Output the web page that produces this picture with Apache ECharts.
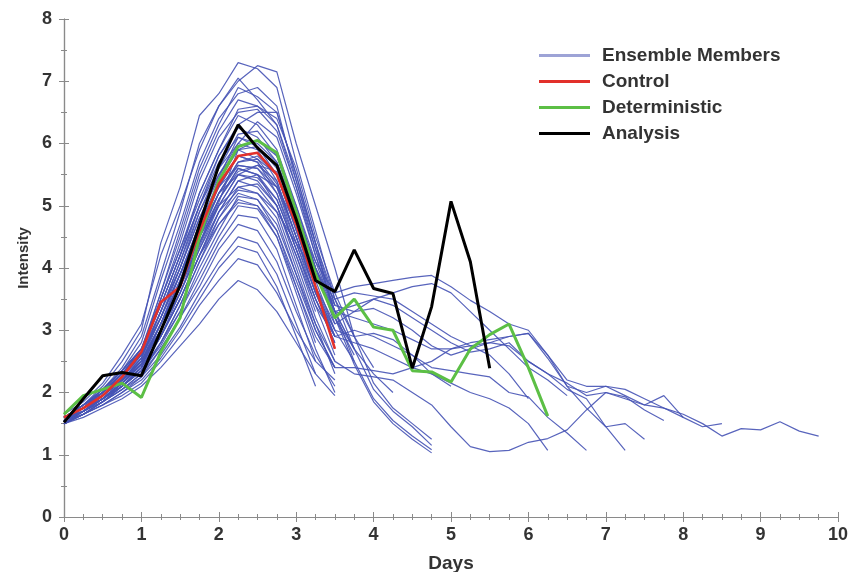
<!DOCTYPE html>
<html>
<head>
<meta charset="utf-8">
<script src="https://cdn.jsdelivr.net/npm/echarts@6/dist/echarts.min.js"></script>
<style>
html,body{margin:0;padding:0;background:#fff;}
#chart{width:851px;height:572px;}
</style>
</head>
<body>
<div id="chart"></div>
<script>
// Time axis (days, 6-hourly)
var days = [0,0.25,0.5,0.75,1,1.25,1.5,1.75,2,2.25,2.5,2.75,3,3.25,3.5,3.75,4,4.25,4.5,4.75,5,5.25,5.5,5.75,6,6.25,6.5,6.75,7,7.25,7.5,7.75,8,8.25,8.5,8.75,9,9.25,9.5,9.75];
var xTicks = [0,1,2,3,4,5,6,7,8,9,10];
var yTicks = [0,1,2,3,4,5,6,7,8];

var analysis = [1.52,1.9,2.27,2.32,2.27,2.99,3.72,4.69,5.65,6.3,5.93,5.65,4.78,3.8,3.62,4.29,3.67,3.59,2.39,3.38,5.07,4.1,2.39];
var control = [1.6,1.75,1.95,2.25,2.65,3.45,3.7,4.6,5.35,5.8,5.85,5.5,4.7,3.7,2.7];
var deterministic = [1.65,1.95,2.05,2.15,1.92,2.65,3.2,4.5,5.4,5.95,6.05,5.85,4.9,3.9,3.2,3.5,3.05,3.0,2.35,2.33,2.17,2.7,2.93,3.1,2.4,1.62];

var e01 = [1.6,1.8,2.1,2.5,3.0,4.4,5.3,6.45,6.8,7.3,7.2,6.9,5.7,4.6,3.5,2.7,2.05,1.7,1.45,1.15];
var e02 = [1.65,1.85,2.15,2.6,3.1,4.2,5.0,5.9,6.6,7.0,7.25,7.15,6.0,5.0,4.0,2.9,2.15,1.75,1.5,1.25];
var e03 = [1.6,1.75,2.05,2.4,2.9,3.9,4.9,6.0,6.6,7.05,6.7,6.3,5.4,4.4,3.5,2.9,2.4];
var e04 = [1.55,1.75,2.0,2.35,2.8,3.8,4.7,5.7,6.4,6.8,6.9,6.6,5.4,4.3,3.3,2.5,1.9,1.55,1.3,1.08];
var e05 = [1.6,1.8,2.0,2.3,2.7,3.6,4.5,5.5,6.2,6.7,6.6,6.4,5.6,4.5,3.6,2.9];
var e06 = [1.55,1.7,1.95,2.25,2.6,3.5,4.4,5.4,6.1,6.5,6.55,6.2,5.3,4.3,3.4];
var e07 = [1.6,1.75,2.0,2.3,2.65,3.4,4.2,5.2,5.9,6.45,6.3,5.9,5.0,4.0,3.1];
var e08 = [1.5,1.7,1.9,2.2,2.55,3.3,4.1,5.0,5.8,6.3,6.5,6.5,5.5,4.4,3.2,2.45,1.85,1.5,1.25,1.03];
var e09 = [1.6,1.8,2.05,2.35,2.7,3.5,4.3,5.1,5.8,6.25,6.1,5.7,4.8,3.8,3.0];
var e10 = [1.55,1.7,1.9,2.15,2.5,3.2,4.0,4.9,5.6,6.15,6.2,5.8,4.9,3.9,3.2,2.6];
var e11 = [1.6,1.75,1.95,2.2,2.55,3.3,4.1,4.9,5.5,6.0,5.9,5.4,4.5,3.6,2.9];
var e12 = [1.5,1.65,1.85,2.1,2.4,3.1,3.8,4.7,5.4,5.9,6.05,5.8,5.0,4.1,3.3,2.7,2.3,2.0];
var e13 = [1.55,1.7,1.9,2.15,2.45,3.1,3.9,4.7,5.3,5.8,5.7,5.2,4.3,3.4,2.6];
var e14 = [1.6,1.8,2.0,2.25,2.6,3.2,3.9,4.6,5.2,5.7,5.75,5.5,4.6,3.7,3.0,2.5];
var e15 = [1.5,1.65,1.85,2.1,2.35,2.9,3.6,4.4,5.1,5.6,5.5,5.0,4.1,3.2,2.5];
var e16 = [1.55,1.7,1.95,2.2,2.5,3.0,3.7,4.4,5.0,5.5,5.45,5.1,4.3,3.5,2.8];
var e17 = [1.6,1.75,1.95,2.2,2.45,2.9,3.5,4.2,4.9,5.4,5.3,4.9,4.0,3.1,2.3];
var e18 = [1.5,1.65,1.85,2.05,2.3,2.8,3.4,4.1,4.8,5.3,5.35,5.0,4.2,3.3];
var e19 = [1.55,1.7,1.9,2.1,2.35,2.8,3.3,4.0,4.6,5.15,5.1,4.6,3.7,2.8];
var e20 = [1.6,1.75,1.9,2.1,2.35,2.75,3.3,3.9,4.5,5.0,4.95,4.5,3.6,2.7,2.0];
var e21 = [1.5,1.65,1.8,2.0,2.25,2.7,3.2,3.8,4.4,4.85,4.8,4.3,3.4,2.5];
var e22 = [1.55,1.7,1.85,2.05,2.3,2.7,3.2,3.7,4.3,4.7,4.6,4.1,3.3,2.6,2.1];
var e23 = [1.6,1.7,1.85,2.05,2.25,2.6,3.05,3.6,4.1,4.5,4.4,3.9,3.1,2.3];
var e24 = [1.5,1.65,1.8,2.0,2.2,2.55,3.0,3.5,4.0,4.35,4.25,3.7,2.9,2.1];
var e25 = [1.55,1.65,1.8,1.95,2.15,2.5,2.9,3.4,3.8,4.15,4.05,3.6,3.0,2.5,2.2];
var e26 = [1.5,1.6,1.75,1.9,2.1,2.4,2.75,3.1,3.5,3.8,3.65,3.3,2.8,2.3,1.95];
var e27 = [1.6,1.8,2.0,2.3,2.7,3.4,4.2,5.0,5.6,6.0,6.35,6.1,5.2,4.2,3.3];
var e28 = [1.55,1.75,1.95,2.25,2.6,3.2,3.9,4.7,5.3,5.65,5.6,5.3,4.4,3.5,2.8];
var e29 = [1.5,1.7,1.9,2.15,2.45,3.0,3.6,4.3,4.9,5.25,5.2,4.8,3.9,3.0,2.4];
var e30 = [1.6,1.75,1.95,2.2,2.5,3.1,3.7,4.35,5.05,5.9,5.75,5.35,4.5,3.6];
var e31 = [1.55,1.75,2.0,2.3,2.65,3.3,4.0,4.8,5.45,6.1,5.95,5.5,4.6,3.7,2.9];
var e32 = [1.6,1.8,2.05,2.35,2.7,3.5,4.3,5.2,5.9,6.55,6.6,6.3,5.3,4.2,3.3,2.7];
var e33 = [1.5,1.7,1.9,2.15,2.45,3.0,3.7,4.5,5.1,5.55,5.65,5.4,4.5,3.6,2.9];
var e34 = [1.55,1.7,1.9,2.15,2.4,2.9,3.5,4.2,4.7,5.05,5.0,4.6,3.8,3.0,2.4];
var e35 = [1.6,1.8,2.0,2.25,2.55,3.2,3.9,4.6,5.2,5.5,5.65,5.55,4.9,4.0,3.2,2.7];
var e36 = [1.55,1.75,2.0,2.3,2.65,3.6,4.6,5.6,6.3,6.9,6.75,6.5,5.5,4.4,3.4];
var t01 = [1.6,1.75,1.95,2.2,2.5,3.1,3.8,4.5,5.0,5.3,5.2,4.9,4.4,3.9,3.5,3.6,3.55,3.5,3.3,3.1,2.9,2.75,2.8,2.9,2.95,2.6,2.2,2.1,2.1,2.05,1.9,1.75,1.65,1.5,1.3,1.42,1.4,1.53,1.38,1.3];
var t02 = [1.55,1.7,1.9,2.15,2.45,3.0,3.7,4.5,5.2,5.7,5.8,5.5,4.8,4.1,3.6,3.7,3.75,3.8,3.85,3.88,3.7,3.48,3.3,3.1,3.0,2.6,2.1,2.0,2.1,1.95,1.8,1.75,1.6,1.45,1.5];
var t03 = [1.6,1.8,2.0,2.3,2.6,3.3,4.0,4.8,5.5,5.9,5.95,5.6,4.9,4.0,3.3,3.4,3.5,3.4,3.2,3.0,2.8,2.65,2.7,2.8,2.5,2.3,2.15,1.95,2.0,1.9,1.8,1.95,1.6];
var t04 = [1.55,1.7,1.9,2.1,2.4,2.9,3.5,4.2,4.9,5.4,5.5,5.3,4.7,3.9,3.3,3.2,3.1,3.0,2.85,2.7,2.7,2.8,2.85,2.9,2.95,2.55,2.1,1.75,1.45,1.5,1.25];
var t05 = [1.6,1.75,1.95,2.2,2.5,3.1,3.8,4.6,5.3,5.8,5.7,5.3,4.5,3.7,3.1,3.3,3.35,3.2,3.0,2.75,2.6,2.7,2.8,2.75,2.5,2.3,2.05,1.9,1.45,1.07];
var t06 = [1.55,1.7,1.9,2.15,2.45,3.0,3.6,4.3,5.0,5.5,5.4,5.0,4.2,3.4,2.9,3.0,2.9,2.75,2.6,2.4,2.35,2.3,2.25,2.0,1.93,1.6,1.35,1.07];
var t07 = [1.6,1.75,1.95,2.2,2.5,3.1,3.7,4.4,5.1,5.6,5.5,5.1,4.3,3.5,2.9,2.8,2.7,2.55,2.4,2.3,2.15,2.0,1.9,1.75,1.5,1.07];
var t08 = [1.5,1.65,1.85,2.1,2.4,2.9,3.5,4.2,4.8,5.2,5.1,4.7,3.9,3.1,2.5,2.3,2.25,2.2,2.0,1.8,1.45,1.13,1.05,1.07,1.2,1.26,1.4,1.72,2.0,1.93,1.72,1.55];
var t09 = [1.55,1.7,1.9,2.1,2.35,2.8,3.4,4.1,4.7,5.1,5.0,4.5,3.7,2.9,2.4,2.4,2.35,2.3,2.4,2.5,2.7,2.75,2.6,2.3,1.9];
var t10 = [1.6,1.8,2.05,2.35,2.7,3.4,4.2,5.0,5.7,6.1,6.0,5.7,4.9,4.0,3.4,3.3,3.5,3.6,3.7,3.75,3.6,3.3,3.0,2.7,2.4,2.2,1.95];
var t11 = [1.55,1.7,1.95,2.2,2.5,3.0,3.7,4.5,5.2,5.65,5.6,5.2,4.4,3.6,3.0,2.9,2.95,2.85,2.6,2.3,2.1];

var members = [e01,e02,e03,e04,e05,e06,e07,e08,e09,e10,e11,e12,e13,e14,e15,e16,e17,e18,e19,e20,e21,e22,e23,e24,e25,e26,e27,e28,e29,e30,e31,e32,e33,e34,e35,e36,t01,t02,t03,t04,t05,t06,t07,t08,t09,t10,t11];

function pairs(vals){ return vals.map(function(v,i){ return [days[i], v]; }); }

var series = [];
members.forEach(function(m){
  series.push({
    name:'Ensemble Members', type:'line', data:pairs(m), symbol:'none', silent:true,
    lineStyle:{color:'#4653b5', width:1.2, opacity:0.9}, itemStyle:{color:'#4653b5'}, z:2
  });
});
series.push({name:'Deterministic', type:'line', data:pairs(deterministic), symbol:'none',
  lineStyle:{color:'#5cbf45', width:3}, itemStyle:{color:'#5cbf45'}, z:3});
series.push({name:'Control', type:'line', data:pairs(control), symbol:'none',
  lineStyle:{color:'#e2302a', width:2.6}, itemStyle:{color:'#e2302a'}, z:4});
series.push({name:'Analysis', type:'line', data:pairs(analysis), symbol:'none',
  lineStyle:{color:'#000000', width:3}, itemStyle:{color:'#000000'}, z:5});

var axisCol = '#8a8a8a';
var fontFam = 'Liberation Sans, Arial, sans-serif';
var labelStyle = {color:'#333333', fontSize:18, fontWeight:'bold', fontFamily:fontFam};

var chart = echarts.init(document.getElementById('chart'), null, {renderer:'canvas'});
chart.setOption({
  animation:false,
  backgroundColor:'#ffffff',
  grid:{left:64, right:13, top:19, bottom:55, containLabel:false, outerBoundsMode:'none'},
  legend:{
    orient:'vertical', left:534, top:41, padding:5, itemWidth:51, itemHeight:3, itemGap:7, icon:'rect',
    textStyle:{color:'#333333', fontSize:19, fontWeight:'bold', fontFamily:fontFam, lineHeight:19, padding:[0,0,0,7]},
    data:[
      {name:'Ensemble Members', itemStyle:{color:'#9da3d6'}},
      {name:'Control', itemStyle:{color:'#e2302a'}},
      {name:'Deterministic', itemStyle:{color:'#5cbf45'}},
      {name:'Analysis', itemStyle:{color:'#000000'}}
    ],
    selectedMode:false
  },
  xAxis:[{
    type:'value', min:xTicks[0], max:xTicks[xTicks.length-1], interval:1,
    name:'Days', nameLocation:'middle', nameGap:37,
    nameTextStyle:{color:'#333333', fontSize:19, fontWeight:'bold', fontFamily:fontFam},
    axisLine:{show:true, lineStyle:{color:axisCol, width:1.2}},
    axisTick:{show:true, inside:true, length:5, lineStyle:{color:axisCol}},
    minorTick:{show:true, splitNumber:4, length:3, lineStyle:{color:axisCol}},
    axisLabel:Object.assign({margin:9}, labelStyle),
    splitLine:{show:false}
  },{
    type:'value', position:'top', min:xTicks[0], max:xTicks[xTicks.length-1], interval:1,
    axisLine:{show:true, lineStyle:{color:axisCol, width:1.2}},
    axisTick:{show:true, inside:true, length:5, lineStyle:{color:axisCol}},
    minorTick:{show:true, splitNumber:4, length:3, lineStyle:{color:axisCol}},
    axisLabel:{show:false}, splitLine:{show:false}
  }],
  yAxis:[{
    type:'value', min:yTicks[0], max:yTicks[yTicks.length-1], interval:1,
    name:'Intensity', nameLocation:'middle', nameGap:26, nameRotate:90,
    nameTextStyle:{color:'#333333', fontSize:15, fontWeight:'bold', fontFamily:fontFam, padding:[0,0,0,20]},
    axisLine:{show:true, lineStyle:{color:axisCol, width:1.2}},
    axisTick:{show:true, inside:true, length:5, lineStyle:{color:axisCol}},
    minorTick:{show:true, splitNumber:2, length:3, lineStyle:{color:axisCol}},
    axisLabel:Object.assign({margin:12}, labelStyle),
    splitLine:{show:false}
  },{
    type:'value', position:'right', min:yTicks[0], max:yTicks[yTicks.length-1], interval:1,
    axisLine:{show:true, lineStyle:{color:axisCol, width:1.2}},
    axisTick:{show:true, inside:true, length:5, lineStyle:{color:axisCol}},
    minorTick:{show:true, splitNumber:2, length:3, lineStyle:{color:axisCol}},
    axisLabel:{show:false}, splitLine:{show:false}
  }],
  series:series
});
</script>
</body>
</html>
